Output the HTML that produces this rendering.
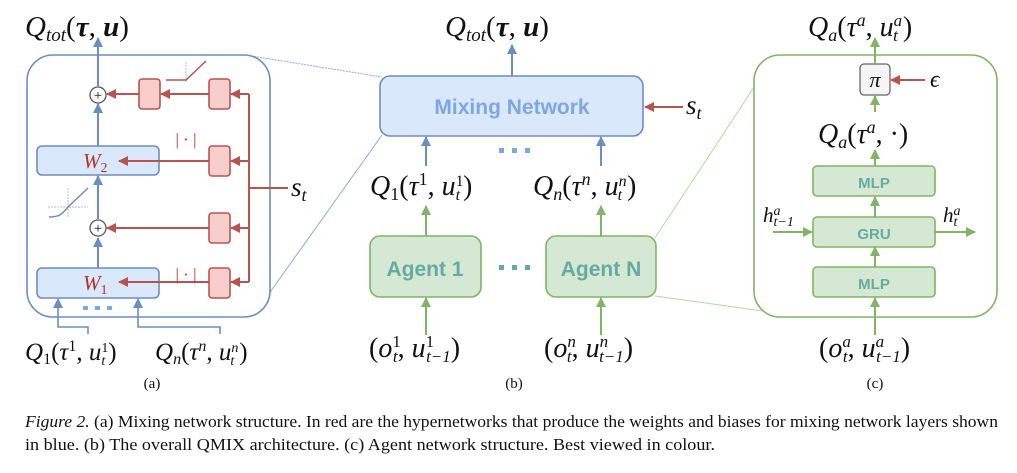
<!DOCTYPE html>
<html><head><meta charset="utf-8"><style>
html,body{margin:0;padding:0;background:#fff;}
svg{display:block;}
.m{font-family:"Liberation Serif",serif;font-style:italic;fill:#111;}
.r{font-family:"Liberation Serif",serif;fill:#111;}
.b{font-family:"Liberation Sans",sans-serif;font-weight:bold;}
</style></head><body>
<svg width="1017" height="473" viewBox="0 0 1017 473" xmlns="http://www.w3.org/2000/svg">
<defs>
<marker id="ab" markerWidth="10" markerHeight="10" refX="9" refY="5" orient="auto" markerUnits="userSpaceOnUse"><path d="M0,0 L10,5 L0,10 z" fill="#6c8ebf"/></marker>
<marker id="ar" markerWidth="10" markerHeight="10" refX="9" refY="5" orient="auto" markerUnits="userSpaceOnUse"><path d="M0,0 L10,5 L0,10 z" fill="#b85450"/></marker>
<marker id="ag" markerWidth="10" markerHeight="10" refX="9" refY="5" orient="auto" markerUnits="userSpaceOnUse"><path d="M0,0 L10,5 L0,10 z" fill="#82b366"/></marker>
</defs>

<!-- zoom lines -->
<line x1="245" y1="55" x2="382" y2="77" stroke="#8fa9d8" stroke-width="1" stroke-dasharray="2,1"/>
<line x1="268" y1="295" x2="382" y2="135" stroke="#8fa9d8" stroke-width="1"/>
<line x1="655" y1="238" x2="760" y2="78" stroke="#b5d6a7" stroke-width="1"/>
<line x1="655" y1="296" x2="770" y2="312" stroke="#b5d6a7" stroke-width="1"/>

<!-- Panel A -->
<rect x="27" y="55" width="243" height="262" rx="26" fill="#fff" stroke="#6c8ebf" stroke-width="1.6"/>
<text class="m" x="25" y="36" font-size="29">Q<tspan font-size="19" dy="5">tot</tspan><tspan dy="-5" font-style="normal">(</tspan><tspan font-weight="bold">τ</tspan><tspan font-style="normal">, </tspan><tspan font-weight="bold">u</tspan><tspan font-style="normal">)</tspan></text>
<line x1="98" y1="86" x2="98" y2="38" stroke="#6c8ebf" stroke-width="2" marker-end="url(#ab)"/>
<line x1="98" y1="146" x2="98" y2="104" stroke="#6c8ebf" stroke-width="2" marker-end="url(#ab)"/>
<line x1="98" y1="219" x2="98" y2="176" stroke="#6c8ebf" stroke-width="2" marker-end="url(#ab)"/>
<line x1="98" y1="268" x2="98" y2="238" stroke="#6c8ebf" stroke-width="2" marker-end="url(#ab)"/>
<circle cx="98" cy="95" r="8" fill="#fff" stroke="#555" stroke-width="1.3"/><text class="r" x="98" y="100" font-size="15" text-anchor="middle">+</text>
<circle cx="98" cy="228" r="8" fill="#fff" stroke="#555" stroke-width="1.3"/><text class="r" x="98" y="233" font-size="15" text-anchor="middle">+</text>
<rect x="37" y="146" width="122" height="29" rx="5" fill="#dae8fc" stroke="#6c8ebf" stroke-width="1.6"/>
<rect x="37" y="268" width="122" height="30" rx="5" fill="#dae8fc" stroke="#6c8ebf" stroke-width="1.6"/>
<text class="m" x="83" y="168" font-size="21" style="fill:#b8302a">W<tspan font-size="14" dy="4" font-style="normal">2</tspan></text>
<text class="m" x="83" y="290" font-size="21" style="fill:#b8302a">W<tspan font-size="14" dy="4" font-style="normal">1</tspan></text>
<!-- red -->
<g stroke="#b85450" stroke-width="1.6" fill="#f8cecc">
<rect x="139" y="79" width="21" height="30" rx="3"/>
<rect x="209" y="79" width="21" height="30" rx="3"/>
<rect x="209" y="146" width="21" height="30" rx="3"/>
<rect x="209" y="213" width="21" height="30" rx="3"/>
<rect x="209" y="268" width="21" height="30" rx="3"/>
</g>
<g stroke="#b85450" stroke-width="2" fill="none">
<polyline points="249,94 249,282"/>
<line x1="249" y1="188" x2="288" y2="188"/>
<line x1="249" y1="94" x2="231" y2="94" marker-end="url(#ar)"/>
<line x1="249" y1="161" x2="231" y2="161" marker-end="url(#ar)"/>
<line x1="249" y1="228" x2="231" y2="228" marker-end="url(#ar)"/>
<line x1="249" y1="282" x2="231" y2="282" marker-end="url(#ar)"/>
<line x1="209" y1="94" x2="161" y2="94" marker-end="url(#ar)"/>
<line x1="139" y1="94" x2="107" y2="94" marker-end="url(#ar)"/>
<line x1="209" y1="161" x2="119" y2="161" marker-end="url(#ar)"/>
<line x1="209" y1="228" x2="107" y2="228" marker-end="url(#ar)"/>
<line x1="209" y1="282" x2="119" y2="282" marker-end="url(#ar)"/>
</g>
<text class="m" x="291" y="196" font-size="27">s<tspan font-size="18" dy="5">t</tspan></text>
<text class="r" x="186" y="145" font-size="17" text-anchor="middle" style="fill:#b8302a">| · |</text>
<text class="r" x="186" y="280" font-size="17" text-anchor="middle" style="fill:#b8302a">| · |</text>
<!-- relu icon -->
<line x1="186" y1="62" x2="186" y2="82" stroke="#bbb" stroke-dasharray="2,1"/>
<polyline points="166,80 186,80 206,61" stroke="#b85450" stroke-width="1.5" fill="none"/>
<!-- elu icon -->
<line x1="48" y1="207" x2="88" y2="207" stroke="#bbb" stroke-dasharray="2,1"/>
<line x1="68" y1="188" x2="68" y2="218" stroke="#bbb" stroke-dasharray="2,1"/>
<path d="M49,217 C60,217 62,214 68,207 L88,188" stroke="#6c8ebf" stroke-width="1.5" fill="none"/>
<!-- inputs -->
<polyline points="88,334 88,327 58,327 58,299" stroke="#6c8ebf" stroke-width="1.6" fill="none" marker-end="url(#ab)"/>
<polyline points="220,334 220,327 138,327 138,299" stroke="#6c8ebf" stroke-width="1.6" fill="none" marker-end="url(#ab)"/>
<g fill="#7ea6e0"><rect x="83" y="306" width="5" height="4"/><rect x="95" y="306" width="5" height="4"/><rect x="107" y="306" width="5" height="4"/></g>
<text class="m" x="25" y="360" font-size="25">Q<tspan font-size="16" dy="4" font-style="normal">1</tspan><tspan dy="-4" font-style="normal">(</tspan>τ<tspan font-size="16" dy="-9" font-style="normal">1</tspan><tspan dy="9" font-style="normal">, </tspan>u<tspan font-size="14" dy="-8" font-style="normal">1</tspan><tspan font-size="14" dx="-7" dy="13">t</tspan><tspan dy="-5" dx="3" font-style="normal">)</tspan></text>
<text class="m" x="155" y="360" font-size="25">Q<tspan font-size="16" dy="4">n</tspan><tspan dy="-4" font-style="normal">(</tspan>τ<tspan font-size="16" dy="-9">n</tspan><tspan dy="9" font-style="normal">, </tspan>u<tspan font-size="14" dy="-8">n</tspan><tspan font-size="14" dx="-8" dy="13">t</tspan><tspan dy="-5" dx="5" font-style="normal">)</tspan></text>
<text class="r" x="152" y="388" font-size="15" text-anchor="middle">(a)</text>

<!-- Panel B -->
<text class="m" x="445" y="36" font-size="29">Q<tspan font-size="19" dy="5">tot</tspan><tspan dy="-5" font-style="normal">(</tspan><tspan font-weight="bold">τ</tspan><tspan font-style="normal">, </tspan><tspan font-weight="bold">u</tspan><tspan font-style="normal">)</tspan></text>
<line x1="512" y1="76" x2="512" y2="45" stroke="#6c8ebf" stroke-width="2" marker-end="url(#ab)"/>
<rect x="380" y="76" width="263" height="60" rx="10" fill="#dae8fc" stroke="#6c8ebf" stroke-width="1.6"/>
<text class="b" x="512" y="114" font-size="21" text-anchor="middle" fill="#7ea6e0">Mixing Network</text>
<line x1="683" y1="107" x2="645" y2="107" stroke="#b85450" stroke-width="2" marker-end="url(#ar)"/>
<text class="m" x="686" y="114" font-size="27">s<tspan font-size="18" dy="5">t</tspan></text>
<line x1="426" y1="166" x2="426" y2="137" stroke="#6c8ebf" stroke-width="2" marker-end="url(#ab)"/>
<line x1="601" y1="166" x2="601" y2="137" stroke="#6c8ebf" stroke-width="2" marker-end="url(#ab)"/>
<g fill="#7ea6e0"><rect x="499" y="148" width="5" height="5"/><rect x="512" y="148" width="5" height="5"/><rect x="525" y="148" width="5" height="5"/></g>
<text class="m" x="370" y="195" font-size="28">Q<tspan font-size="18" dy="5" font-style="normal">1</tspan><tspan dy="-5" font-style="normal">(</tspan>τ<tspan font-size="18" dy="-10" font-style="normal">1</tspan><tspan dy="10" font-style="normal">, </tspan>u<tspan font-size="16" dy="-9" font-style="normal">1</tspan><tspan font-size="16" dx="-8" dy="14">t</tspan><tspan dy="-5" dx="3" font-style="normal">)</tspan></text>
<text class="m" x="533" y="195" font-size="28">Q<tspan font-size="18" dy="5">n</tspan><tspan dy="-5" font-style="normal">(</tspan>τ<tspan font-size="18" dy="-10">n</tspan><tspan dy="10" font-style="normal">, </tspan>u<tspan font-size="16" dy="-9">n</tspan><tspan font-size="16" dx="-9" dy="14">t</tspan><tspan dy="-5" dx="5" font-style="normal">)</tspan></text>
<line x1="426" y1="236" x2="426" y2="206" stroke="#82b366" stroke-width="2" marker-end="url(#ag)"/>
<line x1="601" y1="236" x2="601" y2="206" stroke="#82b366" stroke-width="2" marker-end="url(#ag)"/>
<rect x="370" y="236" width="111" height="61" rx="10" fill="#d5e8d4" stroke="#82b366" stroke-width="1.6"/>
<rect x="546" y="236" width="110" height="61" rx="10" fill="#d5e8d4" stroke="#82b366" stroke-width="1.6"/>
<text class="b" x="425" y="276" font-size="21" text-anchor="middle" fill="#67ab9f">Agent 1</text>
<text class="b" x="601" y="276" font-size="21" text-anchor="middle" fill="#67ab9f">Agent N</text>
<g fill="#67ab9f"><rect x="499" y="265" width="5" height="5"/><rect x="512" y="265" width="5" height="5"/><rect x="525" y="265" width="5" height="5"/></g>
<line x1="426" y1="335" x2="426" y2="298" stroke="#82b366" stroke-width="2" marker-end="url(#ag)"/>
<line x1="601" y1="335" x2="601" y2="298" stroke="#82b366" stroke-width="2" marker-end="url(#ag)"/>
<text class="m" x="369" y="357" font-size="28"><tspan font-style="normal">(</tspan>o<tspan font-size="17" dy="-10" font-style="normal">1</tspan><tspan font-size="17" dx="-8" dy="15">t</tspan><tspan dy="-5" font-style="normal">, </tspan>u<tspan font-size="17" dy="-10" font-style="normal">1</tspan><tspan font-size="17" dx="-8" dy="15">t−1</tspan><tspan dy="-5" font-style="normal">)</tspan></text>
<text class="m" x="544" y="357" font-size="28"><tspan font-style="normal">(</tspan>o<tspan font-size="17" dy="-10">n</tspan><tspan font-size="17" dx="-9" dy="15">t</tspan><tspan dy="-5" font-style="normal">, </tspan>u<tspan font-size="17" dy="-10">n</tspan><tspan font-size="17" dx="-9" dy="15">t−1</tspan><tspan dy="-5" font-style="normal">)</tspan></text>
<text class="r" x="514" y="388" font-size="15" text-anchor="middle">(b)</text>

<!-- Panel C -->
<rect x="754" y="55" width="243" height="262" rx="26" fill="#fff" stroke="#82b366" stroke-width="1.6"/>
<text class="m" x="808" y="36" font-size="28">Q<tspan font-size="18" dy="5">a</tspan><tspan dy="-5" font-style="normal">(</tspan>τ<tspan font-size="18" dy="-10">a</tspan><tspan dy="10" font-style="normal">, </tspan>u<tspan font-size="17" dy="-10">a</tspan><tspan font-size="17" dx="-9" dy="15">t</tspan><tspan dy="-5" dx="5" font-style="normal">)</tspan></text>
<line x1="875" y1="63" x2="875" y2="38" stroke="#82b366" stroke-width="2" marker-end="url(#ag)"/>
<rect x="860" y="64" width="30" height="31" rx="4" fill="#f5f5f5" stroke="#666" stroke-width="1.3"/>
<text class="m" x="875" y="87" font-size="22" text-anchor="middle" font-style="normal">π</text>
<line x1="925" y1="80" x2="891" y2="80" stroke="#b85450" stroke-width="2" marker-end="url(#ar)"/>
<text class="m" x="930" y="87" font-size="24">ϵ</text>
<line x1="875" y1="112" x2="875" y2="96" stroke="#82b366" stroke-width="2" marker-end="url(#ag)"/>
<text class="m" x="818" y="143" font-size="28">Q<tspan font-size="18" dy="5">a</tspan><tspan dy="-5" font-style="normal">(</tspan>τ<tspan font-size="18" dy="-10">a</tspan><tspan dy="10" font-style="normal">, ·)</tspan></text>
<line x1="875" y1="166" x2="875" y2="150" stroke="#82b366" stroke-width="2" marker-end="url(#ag)"/>
<line x1="875" y1="217" x2="875" y2="197" stroke="#82b366" stroke-width="2" marker-end="url(#ag)"/>
<line x1="875" y1="267" x2="875" y2="247" stroke="#82b366" stroke-width="2" marker-end="url(#ag)"/>
<line x1="875" y1="335" x2="875" y2="298" stroke="#82b366" stroke-width="2" marker-end="url(#ag)"/>
<rect x="813" y="166" width="122" height="30" rx="4" fill="#d5e8d4" stroke="#82b366" stroke-width="1.6"/>
<rect x="813" y="217" width="122" height="30" rx="4" fill="#d5e8d4" stroke="#82b366" stroke-width="1.6"/>
<rect x="813" y="267" width="122" height="30" rx="4" fill="#d5e8d4" stroke="#82b366" stroke-width="1.6"/>
<text class="b" x="874" y="188" font-size="15" text-anchor="middle" fill="#67ab9f">MLP</text>
<text class="b" x="874" y="239" font-size="15" text-anchor="middle" fill="#67ab9f">GRU</text>
<text class="b" x="874" y="289" font-size="15" text-anchor="middle" fill="#67ab9f">MLP</text>
<line x1="773" y1="232" x2="812" y2="232" stroke="#82b366" stroke-width="2" marker-end="url(#ag)"/>
<line x1="935" y1="232" x2="975" y2="232" stroke="#82b366" stroke-width="2" marker-end="url(#ag)"/>
<text class="m" x="763" y="222" font-size="21">h<tspan font-size="14" dy="-7">a</tspan><tspan font-size="14" dx="-7" dy="11">t−1</tspan></text>
<text class="m" x="943" y="222" font-size="21">h<tspan font-size="14" dy="-7">a</tspan><tspan font-size="14" dx="-7" dy="11">t</tspan></text>
<text class="m" x="819" y="357" font-size="28"><tspan font-style="normal">(</tspan>o<tspan font-size="17" dy="-10">a</tspan><tspan font-size="17" dx="-8" dy="15">t</tspan><tspan dy="-5" font-style="normal">, </tspan>u<tspan font-size="17" dy="-10">a</tspan><tspan font-size="17" dx="-8" dy="15">t−1</tspan><tspan dy="-5" font-style="normal">)</tspan></text>
<text class="r" x="875" y="388" font-size="15" text-anchor="middle">(c)</text>

<!-- caption -->
<text class="r" x="25" y="427" font-size="17" textLength="973" lengthAdjust="spacingAndGlyphs"><tspan font-style="italic">Figure 2.</tspan> (a) Mixing network structure. In red are the hypernetworks that produce the weights and biases for mixing network layers shown</text>
<text class="r" x="25" y="450" font-size="17" textLength="690" lengthAdjust="spacingAndGlyphs">in blue. (b) The overall QMIX architecture. (c) Agent network structure. Best viewed in colour.</text>
</svg>
</body></html>
